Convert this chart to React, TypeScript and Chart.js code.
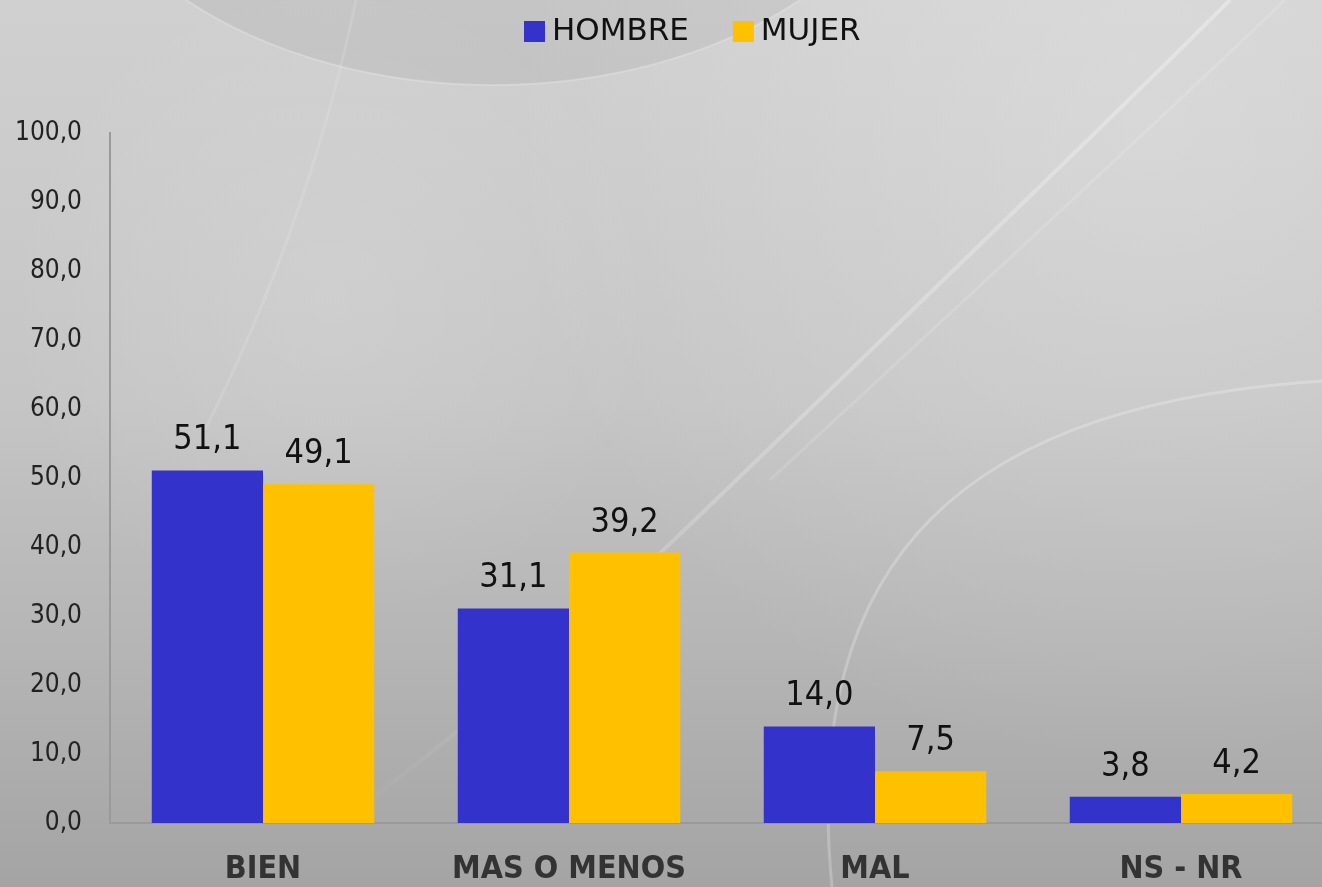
import React, { useEffect, useRef } from "react";
import { Chart, registerables } from "chart.js";

Chart.register(...registerables);

const categories = ["BIEN", "MAS O MENOS", "MAL", "NS - NR"];
const seriesNames = ["HOMBRE", "MUJER"];
const hombre = [51.1, 31.1, 14.0, 3.8];
const mujer = [49.1, 39.2, 7.5, 4.2];
const seriesColors = ["#3333CC", "#FFC000"];
const yMin = 0;
const yMax = 100;
const yStep = 10;

const FONT = "'DejaVu Sans Condensed', 'DejaVu Sans', sans-serif";
const FONT_WIDE = "'DejaVu Sans', sans-serif";
const fmt = (v: number) => v.toFixed(1).replace(".", ",");

const backgroundPlugin = {
  id: "bg",
  beforeDraw(chart: any) {
    const ctx = chart.ctx as CanvasRenderingContext2D;
    const W = chart.width;
    const H = chart.height;
    ctx.save();
    const g = ctx.createLinearGradient(0, 0, 0, H);
    g.addColorStop(0, "#d0d0d0");
    g.addColorStop(0.45, "#c5c5c5");
    g.addColorStop(0.75, "#b4b4b4");
    g.addColorStop(1, "#a4a4a4");
    ctx.fillStyle = g;
    ctx.fillRect(0, 0, W, H);

    const r = ctx.createRadialGradient(1150, 120, 10, 1150, 120, 650);
    r.addColorStop(0, "rgba(255,255,255,0.22)");
    r.addColorStop(1, "rgba(255,255,255,0)");
    ctx.fillStyle = r;
    ctx.fillRect(0, 0, W, H);

    const r2 = ctx.createRadialGradient(330, 300, 10, 330, 300, 330);
    r2.addColorStop(0, "rgba(255,255,255,0.12)");
    r2.addColorStop(1, "rgba(255,255,255,0)");
    ctx.fillStyle = r2;
    ctx.fillRect(0, 0, W, H);

    // darker top ellipse
    ctx.beginPath();
    ctx.ellipse(493, -215, 440, 300, 0, 0, Math.PI * 2);
    ctx.fillStyle = "rgba(0,0,0,0.05)";
    ctx.fill();
    ctx.strokeStyle = "rgba(255,255,255,0.22)";
    ctx.lineWidth = 2;
    ctx.stroke();

    // faint line at left
    ctx.beginPath();
    ctx.moveTo(356, 0);
    ctx.quadraticCurveTo(310, 220, 205, 430);
    ctx.strokeStyle = "rgba(255,255,255,0.12)";
    ctx.lineWidth = 3;
    ctx.stroke();

    // diagonal swoosh
    const lg = ctx.createLinearGradient(1230, 0, 330, 830);
    lg.addColorStop(0, "rgba(255,255,255,0.3)");
    lg.addColorStop(0.6, "rgba(255,255,255,0.2)");
    lg.addColorStop(1, "rgba(255,255,255,0)");
    ctx.beginPath();
    ctx.moveTo(1230, 0);
    ctx.quadraticCurveTo(1110, 120, 700, 515);
    ctx.quadraticCurveTo(520, 690, 330, 830);
    ctx.strokeStyle = lg;
    ctx.lineWidth = 4;
    ctx.stroke();
    ctx.beginPath();
    ctx.moveTo(1285, 0);
    ctx.quadraticCurveTo(1160, 120, 770, 480);
    ctx.strokeStyle = "rgba(255,255,255,0.13)";
    ctx.lineWidth = 3;
    ctx.stroke();

    // bottom-right curve
    ctx.beginPath();
    ctx.moveTo(W, 380);
    ctx.bezierCurveTo(960, 400, 800, 560, 832, H);
    ctx.strokeStyle = "rgba(255,255,255,0.24)";
    ctx.lineWidth = 3;
    ctx.stroke();
    ctx.restore();
  },
};

const legendPlugin = {
  id: "customLegend",
  afterDraw(chart: any) {
    const ctx = chart.ctx as CanvasRenderingContext2D;
    ctx.save();
    ctx.font = `31px ${FONT_WIDE}`;
    ctx.textBaseline = "alphabetic";
    ctx.textAlign = "left";
    let x = 524;
    chart.data.datasets.forEach((ds: any) => {
      ctx.fillStyle = ds.backgroundColor;
      ctx.fillRect(x, 21, 21, 21);
      x += 21 + 7;
      ctx.fillStyle = "#111";
      ctx.fillText(ds.label, x, 40);
      x += ctx.measureText(ds.label).width + 44;
    });
    ctx.restore();
  },
};

const valueLabelPlugin = {
  id: "valueLabels",
  afterDatasetsDraw(chart: any) {
    const ctx = chart.ctx as CanvasRenderingContext2D;
    ctx.save();
    ctx.font = `34px ${FONT}`;
    ctx.fillStyle = "#111";
    ctx.textAlign = "center";
    ctx.textBaseline = "alphabetic";
    chart.data.datasets.forEach((ds: any, di: number) => {
      const meta = chart.getDatasetMeta(di);
      meta.data.forEach((el: any, i: number) => {
        ctx.fillText(fmt(ds.data[i]), el.x, el.y - 21);
      });
    });
    ctx.restore();
  },
};

export default function App() {
  const ref = useRef<HTMLCanvasElement | null>(null);
  useEffect(() => {
    if (!ref.current) return;
    const chart = new Chart(ref.current, {
      type: "bar",
      data: {
        labels: categories,
        datasets: [
          { label: seriesNames[0], data: hombre, backgroundColor: seriesColors[0], borderWidth: 0 },
          { label: seriesNames[1], data: mujer, backgroundColor: seriesColors[1], borderWidth: 0 },
        ],
      },
      options: {
        responsive: false,
        animation: false,
        devicePixelRatio: 1,
        layout: { padding: { top: 133, right: 6, left: 0, bottom: 0 } },
        datasets: { bar: { categoryPercentage: 0.727, barPercentage: 1.0 } },
        plugins: { legend: { display: false }, tooltip: { enabled: false } },
        scales: {
          x: {
            grid: { display: false, drawTicks: false },
            border: { display: true, color: "#9a9a9a", width: 2 },
            ticks: {
              color: "#333",
              padding: 27,
              font: { family: FONT, size: 32, weight: "bold" },
            },
            afterFit: (s: any) => { s.height = 64; },
          },
          y: {
            min: yMin,
            max: yMax,
            grid: { display: false, drawTicks: false },
            border: { display: true, color: "#9a9a9a", width: 2 },
            ticks: {
              stepSize: yStep,
              color: "#222",
              padding: 28,
              font: { family: FONT, size: 26 },
              callback: (v: any) => fmt(Number(v)),
            },
            afterFit: (s: any) => { s.width = 110; },
          },
        },
      },
      plugins: [backgroundPlugin, valueLabelPlugin, legendPlugin],
    });
    return () => chart.destroy();
  }, []);
  return (
    <div style={{ position: "fixed", left: 0, top: 0, width: 1322, height: 887, overflow: "hidden" }}>
      <canvas ref={ref} width={1340} height={887} style={{ width: 1340, height: 887, display: "block" }} />
    </div>
  );
}
